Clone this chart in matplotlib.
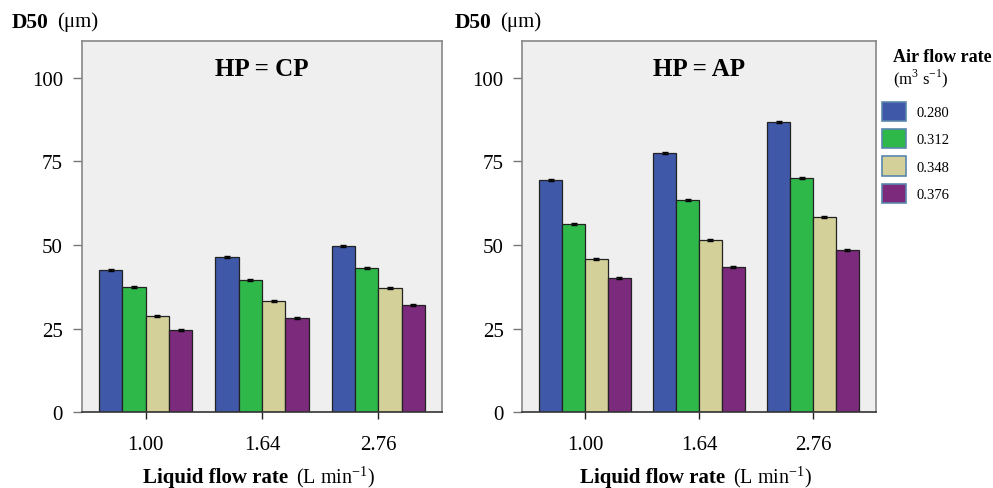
import matplotlib
matplotlib.use("Agg")
import matplotlib.pyplot as plt
import numpy as np
from matplotlib.patches import Patch

plt.rcParams['font.family'] = ['Liberation Serif', 'DejaVu Serif']
plt.rcParams['mathtext.fontset'] = 'custom'
plt.rcParams['mathtext.rm'] = 'Liberation Serif'

liquid_flow = ["1.00", "1.64", "2.76"]
air_flow = ["0.280", "0.312", "0.348", "0.376"]
colors = ["#3f58a8", "#2fb84a", "#d4d09a", "#7b2a7c"]

# D50 values (µm), rows = air flow rate, cols = liquid flow rate
cp_values = [
    [42.6, 46.5, 49.8],
    [37.6, 39.6, 43.2],
    [28.8, 33.3, 37.2],
    [24.6, 28.2, 32.1],
]
ap_values = [
    [69.3, 77.5, 86.7],
    [56.3, 63.4, 69.9],
    [45.8, 51.4, 58.3],
    [40.1, 43.5, 48.6],
]
err = 0.3

W, H = 993, 489
fig = plt.figure(figsize=(W / 100, H / 100), dpi=100)
ax1 = fig.add_axes([0.0823, 0.1548, 0.3631, 0.7593])
ax2 = fig.add_axes([0.526, 0.1548, 0.3559, 0.7593])

width = 0.2
x = np.arange(len(liquid_flow))
for ax, vals, title, cx in [(ax1, cp_values, "HP = CP", 260),
                            (ax2, ap_values, "HP = AP", 697)]:
    ax.set_facecolor("#efefef")
    for i, (v, c) in enumerate(zip(vals, colors)):
        ax.bar(x + (i - 1.5) * width, v, width, color=c, edgecolor="#222222",
               linewidth=0.9, yerr=err, capsize=2.5,
               error_kw=dict(ecolor="black", elinewidth=1, capthick=1),
               label=air_flow[i], zorder=2)
    ax.set_xlim(-0.55, 2.55)
    ax.set_ylim(0, 111)
    ax.set_yticks([0, 25, 50, 75, 100])
    ax.set_xticks(x)
    ax.set_xticklabels(liquid_flow)
    ax.tick_params(axis='y', length=6.5, width=1, color="#777777", labelsize=15, pad=7)
    ax.tick_params(axis='x', length=5, width=1, color="#222222", labelsize=15, pad=11)
    for s in ["top", "right", "left"]:
        ax.spines[s].set_color("#888888")
        ax.spines[s].set_linewidth(1.2)
    ax.spines["bottom"].set_color("#333333")
    ax.spines["bottom"].set_linewidth(1.2)
    ax.text(0.5, 0.925, title, transform=ax.transAxes, ha="center", va="center",
            fontsize=18, fontweight="bold")
    fig.text((cx + 28.5) / W, 1 - 483 / H, "Liquid flow rate", ha="right",
             va="baseline", fontsize=15, fontweight="bold")
    fig.text((cx + 36) / W, 1 - 483 / H, "(L min$^{-1}$)", ha="left",
             va="baseline", fontsize=14.5)

# D50 labels
for xpos in [12, 455]:
    fig.text(xpos / W, 1 - 22.5 / H, "D50", fontsize=15.5, fontweight="bold",
             ha="left", va="center")
    fig.text((xpos + 45) / W, 1 - 22.5 / H, "(μm)", fontsize=15, ha="left", va="center")

# Legend
fig.text(893 / W, 1 - 58 / H, "Air flow rate", fontsize=13, fontweight="bold",
         ha="left", va="center")
fig.text(893 / W, 1 - 79 / H, "(m$^3$ s$^{-1}$)", fontsize=12, ha="left", va="center")
handles = [Patch(facecolor=c, edgecolor="#5a86ad", linewidth=1.2) for c in colors]
leg = fig.legend(handles, air_flow, loc="upper left",
                 bbox_to_anchor=(876 / W, 1 - 97 / H), frameon=False,
                 fontsize=10.5, handlelength=1.65, handleheight=1.65,
                 labelspacing=0.55, handletextpad=0.75, borderaxespad=0)

fig.savefig("out.png", dpi=100)
